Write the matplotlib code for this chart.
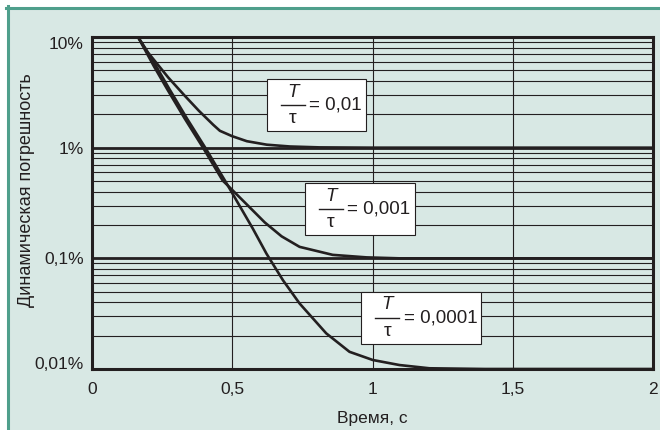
import matplotlib
matplotlib.use('Agg')
import matplotlib.pyplot as plt
from matplotlib.patches import Rectangle
from matplotlib.lines import Line2D
from matplotlib.ticker import LogLocator, NullFormatter
from matplotlib.offsetbox import TextArea, VPacker, HPacker, DrawingArea, AnnotationBbox

plt.rcParams['font.family'] = ['Liberation Sans', 'DejaVu Sans']
plt.rcParams['font.style'] = 'normal'

BG = '#d8e8e4'
EDGE = '#4f9f8c'
INK = '#231f20'

# values (time in s, error in %)
t_a = [0.164, 0.200, 0.272, 0.331, 0.381, 0.432, 0.456, 0.500, 0.552, 0.623, 0.705, 0.811, 1.0, 1.5, 2.0]
e_a = [10, 7.22, 4.30, 2.94, 2.154, 1.611, 1.42, 1.269, 1.144, 1.064, 1.025, 1.006, 1.0, 1.0, 1.0]

t_b = [0.164, 0.220, 0.268, 0.331, 0.398, 0.434, 0.466, 0.488, 0.552, 0.616, 0.676, 0.740, 0.858,
       0.979, 1.096, 1.5, 2.0]
e_b = [10, 5.48, 3.38, 1.826, 0.979, 0.688, 0.504, 0.445, 0.3065, 0.211, 0.158, 0.127, 0.1075,
       0.102, 0.1, 0.1, 0.1]

t_c = [0.164, 0.228, 0.276, 0.339, 0.406, 0.442, 0.474, 0.573, 0.622, 0.681, 0.740, 0.835, 0.918,
       1.001, 1.096, 1.203, 1.4, 2.0]
e_c = [10, 5.48, 3.38, 1.826, 0.979, 0.688, 0.504, 0.1863, 0.1102, 0.0633, 0.0391, 0.021, 0.0143,
       0.01206, 0.01086, 0.01015, 0.01, 0.01]

xticks = [0, 0.5, 1, 1.5, 2]
xlabels = ['0', '0,5', '1', '1,5', '2']
yticks = [0.01, 0.1, 1, 10]
ylabels = ['0,01%', '0,1%', '1%', '10%']

notes = [('0,01', 0.80, 2.41),
         ('0,001', 0.955, 0.277),
         ('0,0001', 1.174, 0.0288)]


def ratio_box(value):
    lead = DrawingArea(4, 1)
    num = TextArea('T', textprops=dict(fontsize=13.5, style='italic', color=INK))
    bar = DrawingArea(17.5, 3)
    bar.add_artist(Line2D([0, 17.5], [1.5, 1.5], color=INK, lw=1.0))
    den = TextArea('τ', textprops=dict(fontsize=14, style='normal', color=INK))
    frac = VPacker(children=[num, bar, den], align='center', pad=0, sep=2)
    rhs = TextArea('= ' + value, textprops=dict(fontsize=13.5, style='normal', color=INK))
    return HPacker(children=[lead, frac, rhs], align='center', pad=0, sep=3)


fig = plt.figure(figsize=(6.6, 4.3), dpi=100)
fig.patch.set_facecolor('white')
fig.patches.append(Rectangle((7.5 / 660, 0), 1, (430 - 7.5) / 430, transform=fig.transFigure,
                             facecolor=BG, edgecolor='none', zorder=-2))
fig.lines.append(Line2D([6 / 660, 1], [(430 - 7.5) / 430] * 2, transform=fig.transFigure,
                        color=EDGE, lw=2.2))
fig.lines.append(Line2D([7.5 / 660] * 2, [0, (430 - 6) / 430], transform=fig.transFigure,
                        color=EDGE, lw=2.2))

ax = fig.add_axes([92 / 660, (430 - 369) / 430, 561 / 660, 332 / 430])
ax.set_facecolor('none')
ax.set_yscale('log')
ax.set_xlim(0, 2)
ax.set_ylim(0.01, 10)

for t, e in [(t_a, e_a), (t_b, e_b), (t_c, e_c)]:
    ax.plot(t, e, color=INK, lw=1.9, solid_joinstyle='round', zorder=3)

ax.set_xticks(xticks)
ax.set_xticklabels(xlabels)
ax.set_yticks(yticks)
ax.set_yticklabels(ylabels)
ax.yaxis.set_minor_locator(LogLocator(base=10, subs=[2, 3, 4, 5, 6, 7, 8, 9]))
ax.yaxis.set_minor_formatter(NullFormatter())
ax.tick_params(which='both', length=0)
ax.tick_params(axis='x', pad=9, labelsize=12.5, colors=INK)
ax.tick_params(axis='y', pad=6, labelsize=12.5, colors=INK)

labs = ax.get_yticklabels()
labs[0].set_va('baseline')
labs[-1].set_va('top')

ax.grid(which='minor', axis='y', color=INK, lw=0.8)
ax.grid(which='major', axis='y', color=INK, lw=2.0)
ax.grid(which='major', axis='x', color=INK, lw=0.8)
for side in ['left', 'right', 'top', 'bottom']:
    ax.spines[side].set_color(INK)
    ax.spines[side].set_linewidth(2.2)

for value, x, y in notes:
    ab = AnnotationBbox(ratio_box(value), (x, y), xycoords='data', frameon=True, pad=0.5,
                        bboxprops=dict(boxstyle='square', facecolor='white', edgecolor=INK, lw=0.8),
                        zorder=5)
    ax.add_artist(ab)

fig.text(27 / 660, (430 - 190) / 430, 'Динамическая погрешность', rotation=90,
         ha='center', va='center', fontsize=13, style='normal', color=INK)
fig.text((92 + 280.5) / 660, (430 - 423.3) / 430, 'Время, с', ha='center', va='baseline',
         fontsize=12.5, color=INK)

fig.savefig('out.png', dpi=100)
